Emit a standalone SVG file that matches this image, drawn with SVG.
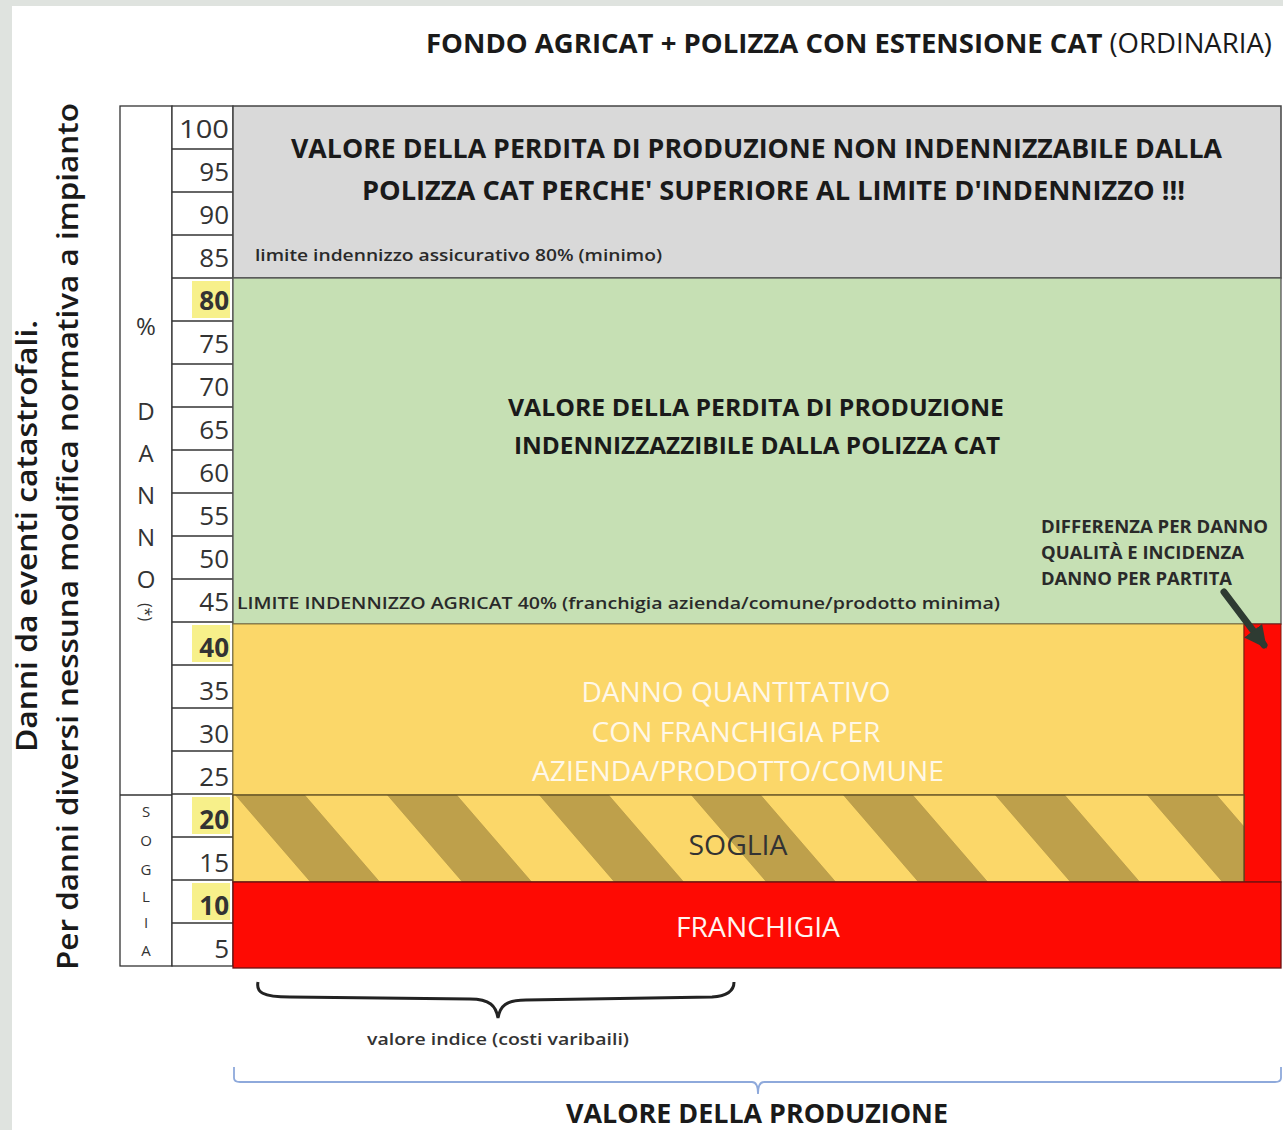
<svg xmlns="http://www.w3.org/2000/svg" width="1283" height="1130" viewBox="0 0 1283 1130">
<style>
.t{font-family:"Open Sans","Liberation Sans",sans-serif}
.b{font-weight:700}
.sb{font-weight:600}
.num{font-family:"Open Sans","Liberation Sans",sans-serif;font-size:26px;fill:#333;text-anchor:end}
.cell{fill:#fff;stroke:#333;stroke-width:1.3}
.hl{fill:#f7f08a}
.let{font-family:"Open Sans","Liberation Sans",sans-serif;fill:#333;text-anchor:middle}
</style>
<defs>
<pattern id="stripes" patternUnits="userSpaceOnUse" width="152" height="100" patternTransform="translate(235,795) skewX(40.8)">
<rect x="0" y="0" width="152" height="100" fill="#fbd769"/>
<rect x="0" y="0" width="70" height="100" fill="#bea04b"/>
</pattern>
<marker id="ah" viewBox="0 0 10 10" refX="8" refY="5" markerWidth="3.2" markerHeight="3.2" orient="auto" markerUnits="strokeWidth">
<path d="M0,0 L10,5 L0,10 z" fill="#2e3b32"/>
</marker>
</defs>
<rect x="0" y="0" width="1283" height="1130" fill="#dfe3df"/>
<rect x="12" y="6" width="1271" height="1124" fill="#ffffff"/>

<g id="title">
<text class="t" x="426" y="53" font-size="27" fill="#1a1a1a" textLength="846" lengthAdjust="spacingAndGlyphs"><tspan class="b">FONDO AGRICAT + POLIZZA CON ESTENSIONE CAT </tspan><tspan>(ORDINARIA)</tspan></text>
</g>

<g id="side-label">
<text class="t sb" transform="translate(37,752) rotate(-90)" font-size="29" fill="#1a1a1a" textLength="432" lengthAdjust="spacingAndGlyphs">Danni da eventi catastrofali.</text>
<text class="t sb" transform="translate(78,970) rotate(-90)" font-size="29" fill="#1a1a1a" textLength="867" lengthAdjust="spacingAndGlyphs">Per danni diversi nessuna modifica normativa a impianto</text>
</g>

<g id="scale">
<rect x="120" y="106" width="52" height="860" class="cell"/>
<line x1="120" y1="795" x2="172" y2="795" stroke="#333" stroke-width="1.3"/>
<rect x="172" y="106" width="61" height="860" class="cell"/>
<g stroke="#333" stroke-width="1.3">
<line x1="172" y1="149" x2="233" y2="149"/><line x1="172" y1="192" x2="233" y2="192"/>
<line x1="172" y1="235" x2="233" y2="235"/><line x1="172" y1="278" x2="233" y2="278"/>
<line x1="172" y1="321" x2="233" y2="321"/><line x1="172" y1="364" x2="233" y2="364"/>
<line x1="172" y1="407" x2="233" y2="407"/><line x1="172" y1="450" x2="233" y2="450"/>
<line x1="172" y1="493" x2="233" y2="493"/><line x1="172" y1="536" x2="233" y2="536"/>
<line x1="172" y1="579" x2="233" y2="579"/><line x1="172" y1="622" x2="233" y2="622"/>
<line x1="172" y1="665" x2="233" y2="665"/><line x1="172" y1="708" x2="233" y2="708"/>
<line x1="172" y1="751" x2="233" y2="751"/><line x1="172" y1="794" x2="233" y2="794"/>
<line x1="172" y1="837" x2="233" y2="837"/><line x1="172" y1="880" x2="233" y2="880"/>
<line x1="172" y1="923" x2="233" y2="923"/>
</g>
<rect x="192" y="281" width="38" height="37" class="hl"/>
<rect x="192" y="625" width="38" height="37" class="hl"/>
<rect x="192" y="797" width="38" height="37" class="hl"/>
<rect x="192" y="883" width="38" height="37" class="hl"/>
<text class="num" x="229" y="138" textLength="50" lengthAdjust="spacingAndGlyphs">100</text>
<text class="num" x="229" y="181">95</text>
<text class="num" x="229" y="224">90</text>
<text class="num" x="229" y="267">85</text>
<text class="num b" x="229" y="310" fill="#111">80</text>
<text class="num" x="229" y="353">75</text>
<text class="num" x="229" y="396">70</text>
<text class="num" x="229" y="439">65</text>
<text class="num" x="229" y="482">60</text>
<text class="num" x="229" y="525">55</text>
<text class="num" x="229" y="568">50</text>
<text class="num" x="229" y="611">45</text>
<text class="num b" x="229" y="657" fill="#111">40</text>
<text class="num" x="229" y="700">35</text>
<text class="num" x="229" y="743">30</text>
<text class="num" x="229" y="786">25</text>
<text class="num b" x="229" y="829" fill="#111">20</text>
<text class="num" x="229" y="872">15</text>
<text class="num b" x="229" y="915" fill="#111">10</text>
<text class="num" x="229" y="958">5</text>
<g font-size="24">
<text class="let" x="146" y="335">%</text>
<text class="let" x="146" y="420">D</text>
<text class="let" x="146" y="462">A</text>
<text class="let" x="146" y="504">N</text>
<text class="let" x="146" y="546">N</text>
<text class="let" x="146" y="588">O</text>
</g>
<text class="let" transform="translate(140,612) rotate(90)" font-size="16">(*)</text>
<g font-size="15">
<text class="let" x="146" y="817">S</text>
<text class="let" x="146" y="846">O</text>
<text class="let" x="146" y="875">G</text>
<text class="let" x="146" y="902">L</text>
<text class="let" x="146" y="928">I</text>
<text class="let" x="146" y="956">A</text>
</g>
</g>

<g id="zone-gray">
<rect x="233" y="106" width="1048" height="172" fill="#d9d9d9" stroke="#444" stroke-width="1.5"/>
<text class="t b" x="291" y="158" font-size="27" fill="#1a1a1a" textLength="931" lengthAdjust="spacingAndGlyphs">VALORE DELLA PERDITA DI PRODUZIONE NON INDENNIZZABILE DALLA</text>
<text class="t b" x="362" y="200" font-size="27" fill="#1a1a1a" textLength="823" lengthAdjust="spacingAndGlyphs">POLIZZA CAT PERCHE' SUPERIORE AL LIMITE D'INDENNIZZO !!!</text>
<text class="t sb" x="255" y="261" font-size="17" fill="#2a2a2a" textLength="407" lengthAdjust="spacingAndGlyphs">limite indennizzo assicurativo 80% (minimo)</text>
</g>

<g id="zone-green">
<rect x="233" y="278" width="1048" height="346" fill="#c6e0b4" stroke="#555" stroke-width="1.3"/>
<text class="t b" x="508" y="416" font-size="24" fill="#1a1a1a" textLength="496" lengthAdjust="spacingAndGlyphs">VALORE DELLA PERDITA DI PRODUZIONE</text>
<text class="t b" x="514" y="454" font-size="24" fill="#1a1a1a" textLength="486" lengthAdjust="spacingAndGlyphs">INDENNIZZAZZIBILE DALLA POLIZZA CAT</text>
<text class="t sb" x="237" y="609" font-size="17" fill="#2a2a2a" textLength="763" lengthAdjust="spacingAndGlyphs">LIMITE INDENNIZZO AGRICAT 40% (franchigia azienda/comune/prodotto minima)</text>
<text class="t b" x="1041" y="533" font-size="17" fill="#2a2a2a" textLength="227" lengthAdjust="spacingAndGlyphs">DIFFERENZA PER DANNO</text>
<text class="t b" x="1041" y="559" font-size="17" fill="#2a2a2a" textLength="203" lengthAdjust="spacingAndGlyphs">QUALITÀ E INCIDENZA</text>
<text class="t b" x="1041" y="585" font-size="17" fill="#2a2a2a" textLength="191" lengthAdjust="spacingAndGlyphs">DANNO PER PARTITA</text>
</g>

<g id="zone-yellow">
<rect x="233" y="624" width="1011" height="171" fill="#fbd769" stroke="#8a7a3a" stroke-width="1"/>
<text class="t" x="736" y="702" font-size="28" fill="#fff8e8" text-anchor="middle" textLength="309" lengthAdjust="spacingAndGlyphs">DANNO QUANTITATIVO</text>
<text class="t" x="736" y="742" font-size="28" fill="#fff8e8" text-anchor="middle" textLength="289" lengthAdjust="spacingAndGlyphs">CON FRANCHIGIA PER</text>
<text class="t" x="738" y="781" font-size="28" fill="#fff8e8" text-anchor="middle" textLength="412" lengthAdjust="spacingAndGlyphs">AZIENDA/PRODOTTO/COMUNE</text>
</g>

<g id="zone-red-column">
<rect x="1244" y="624" width="37" height="258" fill="#fe0a03" stroke="#7a1a10" stroke-width="1"/>
</g>

<g id="zone-soglia">
<rect x="233" y="795" width="1011" height="87" fill="url(#stripes)" stroke="#5a4a20" stroke-width="1.3"/>
<text class="t" x="738" y="855" font-size="28" fill="#333" text-anchor="middle" textLength="99" lengthAdjust="spacingAndGlyphs">SOGLIA</text>
</g>

<g id="zone-franchigia">
<rect x="233" y="882" width="1048" height="86" fill="#fe0a03" stroke="#6a1010" stroke-width="1.3"/>
<text class="t" x="758" y="937" font-size="28" fill="#fff5f0" text-anchor="middle" textLength="164" lengthAdjust="spacingAndGlyphs">FRANCHIGIA</text>
</g>

<g id="connectors">
<line x1="1224" y1="592" x2="1264" y2="645" stroke="#2e3b32" stroke-width="7" stroke-linecap="round" marker-end="url(#ah)"/>
</g>

<g id="brace-index">
<path d="M258,982 C256,992 262,997 290,997 L470,999 C490,999 496,1006 498,1018 C500,1006 506,1000 526,1000 L712,997 C728,996 734,990 734,982" fill="none" stroke="#222" stroke-width="3"/>
<text class="t sb" x="498" y="1045" font-size="17" fill="#333" text-anchor="middle" textLength="262" lengthAdjust="spacingAndGlyphs">valore indice (costi varibaili)</text>
</g>

<g id="brace-production">
<path d="M234,1067 L234,1078 Q234,1082 240,1082 L752,1082 Q758,1082 758,1094 Q758,1082 764,1082 L1275,1082 Q1281,1082 1281,1078 L1281,1067" fill="none" stroke="#8ea9db" stroke-width="1.8"/>
<text class="t b" x="757" y="1123" font-size="27" fill="#1a1a1a" text-anchor="middle" textLength="382" lengthAdjust="spacingAndGlyphs">VALORE DELLA PRODUZIONE</text>
</g>
</svg>
